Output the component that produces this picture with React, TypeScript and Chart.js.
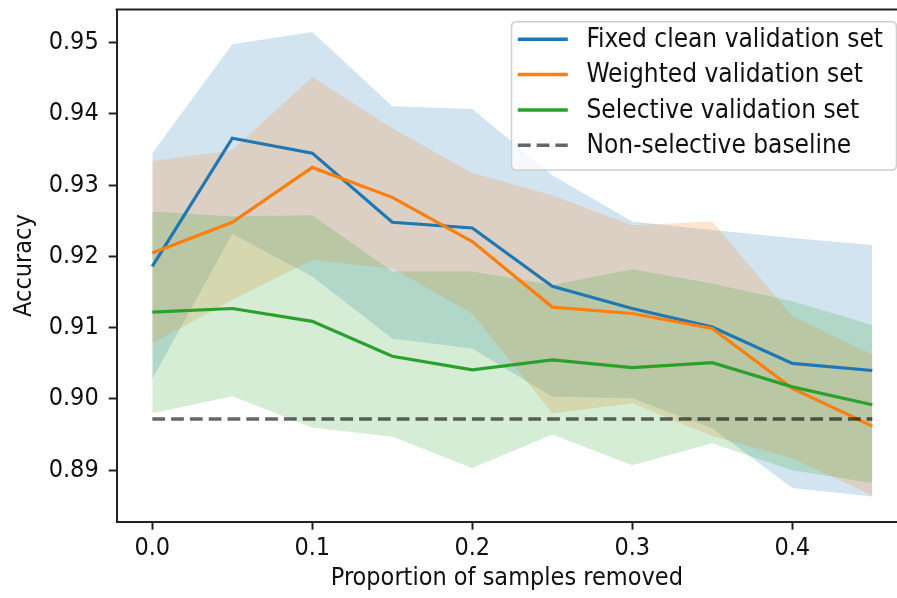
import React, { useEffect, useRef } from "react";
import { Chart, registerables } from "chart.js";

Chart.register(...registerables);

// ---------- data ----------
const xValues = [0, 0.05, 0.1, 0.15, 0.2, 0.25, 0.3, 0.35, 0.4, 0.45];

const fixedClean = [0.9186, 0.9366, 0.9345, 0.9248, 0.924, 0.9158, 0.9127, 0.9101, 0.905, 0.904];
const fixedCleanUpper = [0.9345, 0.9498, 0.9515, 0.9411, 0.9407, 0.9314, 0.9249, 0.9237, 0.9226, 0.9216];
const fixedCleanLower = [0.9028, 0.9232, 0.9172, 0.9085, 0.9071, 0.9003, 0.9001, 0.8959, 0.8875, 0.8863];

const weighted = [0.9205, 0.9248, 0.9325, 0.9283, 0.9221, 0.9129, 0.912, 0.9099, 0.9015, 0.8962];
const weightedUpper = [0.9334, 0.9349, 0.9452, 0.938, 0.9317, 0.9286, 0.9244, 0.9249, 0.9116, 0.9062];
const weightedLower = [0.9078, 0.9139, 0.9195, 0.9183, 0.912, 0.898, 0.8994, 0.8948, 0.8917, 0.8865];

const selective = [0.9122, 0.9127, 0.9109, 0.906, 0.9041, 0.9055, 0.9044, 0.9051, 0.9017, 0.8992];
const selectiveUpper = [0.9263, 0.9256, 0.9258, 0.9179, 0.9179, 0.916, 0.9182, 0.9162, 0.9137, 0.9104];
const selectiveLower = [0.898, 0.9004, 0.896, 0.8947, 0.8903, 0.895, 0.8907, 0.8938, 0.89, 0.8882];

const baselineValue = 0.8972;
const baselineX = [0, 0.45];

const xTicks = [0, 0.1, 0.2, 0.3, 0.4];
const yTicks = [0.89, 0.9, 0.91, 0.92, 0.93, 0.94, 0.95];

const seriesLabels = [
  "Fixed clean validation set",
  "Weighted validation set",
  "Selective validation set",
  "Non-selective baseline",
];
const xTitle = "Proportion of samples removed";
const yTitle = "Accuracy";

// ---------- style ----------
const FONT = "'DejaVu Sans Condensed', 'DejaVu Sans', sans-serif";
const FS = 25;
const LEGEND_FS = 26;
const BLUE = "#1f77b4";
const ORANGE = "#ff7f0e";
const GREEN = "#2ca02c";
const BASE = "rgba(0,0,0,0.6)";
const AXIS = "#222222";
const TEXT = "#111111";
const DASH = [12.8, 6];

const pts = (ys: number[]) => ys.map((y, i) => ({ x: xValues[i], y }));

const framePlugin = {
  id: "frameTop",
  afterDraw(chart: any) {
    const { ctx, chartArea } = chart;
    ctx.save();
    ctx.strokeStyle = AXIS;
    ctx.lineWidth = 2;
    ctx.beginPath();
    ctx.moveTo(chartArea.left - 1, chartArea.top);
    ctx.lineTo(chartArea.right + 2, chartArea.top);
    ctx.stroke();
    ctx.restore();
  },
};

const legendPlugin = {
  id: "innerLegend",
  afterDraw(chart: any) {
    const { ctx, chartArea } = chart;
    const right = chartArea.right - 0.5;
    const left = right - 385;
    const top = chartArea.top + 12.2;
    const h = 148.3;
    const r = 5;
    ctx.save();
    ctx.beginPath();
    ctx.moveTo(left + r, top);
    ctx.lineTo(right - r, top);
    ctx.quadraticCurveTo(right, top, right, top + r);
    ctx.lineTo(right, top + h - r);
    ctx.quadraticCurveTo(right, top + h, right - r, top + h);
    ctx.lineTo(left + r, top + h);
    ctx.quadraticCurveTo(left, top + h, left, top + h - r);
    ctx.lineTo(left, top + r);
    ctx.quadraticCurveTo(left, top, left + r, top);
    ctx.closePath();
    ctx.fillStyle = "rgba(255,255,255,0.8)";
    ctx.fill();
    ctx.strokeStyle = "#d0d0d0";
    ctx.lineWidth = 1.5;
    ctx.stroke();

    const colors = [BLUE, ORANGE, GREEN, BASE];
    ctx.font = `${LEGEND_FS}px ${FONT}`;
    ctx.textBaseline = "middle";
    ctx.textAlign = "left";
    seriesLabels.forEach((label, i) => {
      const y = top + 17.6 + i * 35.3;
      ctx.beginPath();
      ctx.strokeStyle = colors[i];
      ctx.lineWidth = 3.5;
      ctx.setLineDash(i === 3 ? DASH : []);
      ctx.moveTo(left + 6.3, y);
      ctx.lineTo(left + 56.3, y);
      ctx.stroke();
      ctx.setLineDash([]);
      ctx.fillStyle = TEXT;
      ctx.fillText(label, left + 75, y + 1);
    });
    ctx.restore();
  },
};

export default function App() {
  const ref = useRef<HTMLCanvasElement | null>(null);

  useEffect(() => {
    if (!ref.current) return;
    const band = (data: number[], color: string, order: number) => ({
      data: pts(data),
      borderWidth: 0,
      pointRadius: 0,
      backgroundColor: color,
      fill: "+1",
      order,
    });
    const lower = (data: number[], order: number) => ({
      data: pts(data),
      borderWidth: 0,
      pointRadius: 0,
      fill: false,
      order,
    });
    const line = (data: number[], color: string, order: number) => ({
      data: pts(data),
      borderColor: color,
      borderWidth: 3.2,
      pointRadius: 0,
      fill: false,
      order,
    });

    const chart = new Chart(ref.current, {
      type: "line",
      data: {
        datasets: [
          band(fixedCleanUpper, "rgba(31,119,180,0.2)", 16),
          lower(fixedCleanLower, 15),
          band(weightedUpper, "rgba(255,127,14,0.2)", 14),
          lower(weightedLower, 13),
          band(selectiveUpper, "rgba(44,160,44,0.2)", 12),
          lower(selectiveLower, 11),
          { ...line(fixedClean, BLUE, 4), label: seriesLabels[0] },
          { ...line(weighted, ORANGE, 3), label: seriesLabels[1] },
          { ...line(selective, GREEN, 2), label: seriesLabels[2] },
          {
            label: seriesLabels[3],
            data: baselineX.map((x) => ({ x, y: baselineValue })),
            borderColor: BASE,
            borderWidth: 3.5,
            borderDash: DASH,
            borderCapStyle: "butt",
            pointRadius: 0,
            fill: false,
            order: 1,
          },
        ] as any,
      },
      options: {
        animation: false,
        responsive: false,
        devicePixelRatio: 1,
        layout: { padding: { left: 0, top: 9.5, right: 0, bottom: 0 } },
        plugins: {
          legend: { display: false },
          tooltip: { enabled: false },
        },
        elements: { line: { tension: 0 } },
        scales: {
          x: {
            type: "linear",
            min: -0.02225,
            max: 0.46544,
            afterFit: (s: any) => {
              s.height = 76.3;
              s.paddingLeft = 0;
              s.paddingRight = 0;
            },
            afterBuildTicks: (s: any) => {
              s.ticks = xTicks.map((v) => ({ value: v }));
            },
            grid: {
              display: true,
              drawOnChartArea: false,
              drawTicks: true,
              tickLength: 8,
              tickWidth: 2,
              tickColor: AXIS,
            },
            border: { display: true, color: AXIS, width: 2 },
            ticks: {
              padding: 4,
              color: TEXT,
              font: { family: FONT, size: FS },
              maxRotation: 0,
              callback: (v: any) => Number(v).toFixed(1),
            },
            title: {
              display: true,
              text: xTitle,
              color: TEXT,
              font: { family: FONT, size: FS },
              padding: { top: 0, bottom: 5 },
            },
          },
          y: {
            type: "linear",
            min: 0.88278,
            max: 0.95466,
            afterFit: (s: any) => {
              s.width = 116.7;
              s.paddingTop = 0;
              s.paddingBottom = 0;
            },
            afterBuildTicks: (s: any) => {
              s.ticks = yTicks.map((v) => ({ value: v }));
            },
            grid: {
              display: true,
              drawOnChartArea: false,
              drawTicks: true,
              tickLength: 8,
              tickWidth: 2,
              tickColor: AXIS,
            },
            border: { display: true, color: AXIS, width: 2 },
            ticks: {
              padding: 10,
              color: TEXT,
              font: { family: FONT, size: FS },
              callback: (v: any) => Number(v).toFixed(2),
            },
            title: {
              display: true,
              text: yTitle,
              color: TEXT,
              font: { family: FONT, size: FS },
              padding: { top: 9, bottom: 0 },
            },
          },
        },
      } as any,
      plugins: [framePlugin, legendPlugin],
    });
    return () => chart.destroy();
  }, []);

  return (
    <div style={{ position: "fixed", left: 0, top: 0, width: 897, height: 598, background: "#fff" }}>
      <canvas ref={ref} width={897} height={598} style={{ display: "block", width: 897, height: 598 }} />
    </div>
  );
}
